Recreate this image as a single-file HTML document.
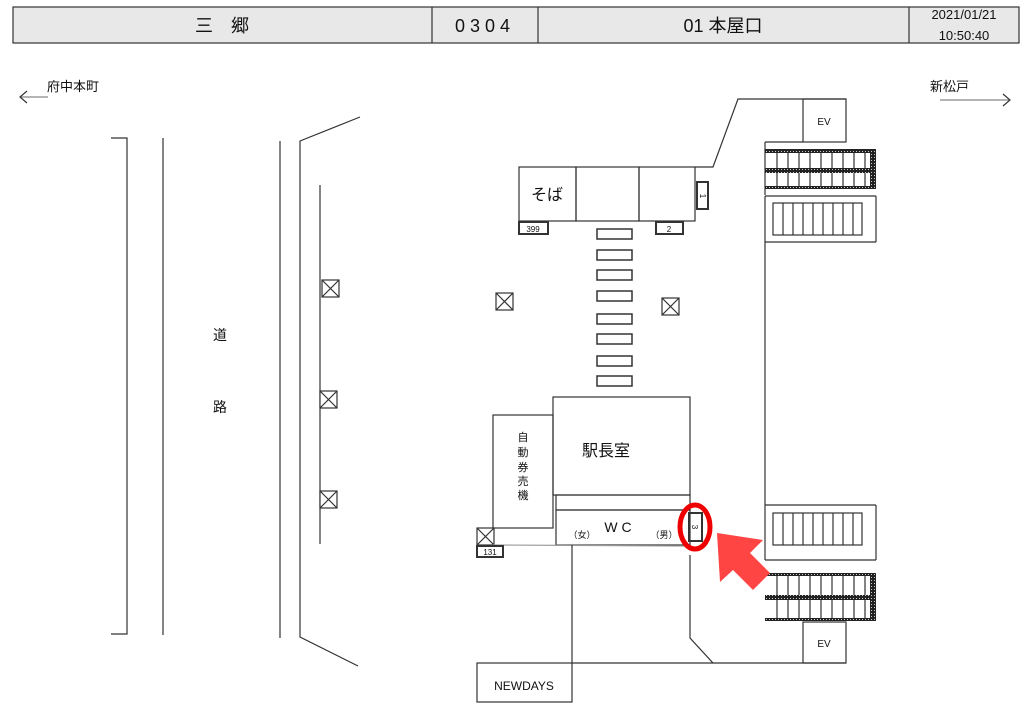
<!DOCTYPE html>
<html><head><meta charset="utf-8"><style>body{margin:0;background:#fff}svg{display:block}text{font-family:"Liberation Sans","Noto Sans CJK JP",sans-serif;fill:#111}</style></head><body>
<svg width="1024" height="709" viewBox="0 0 1024 709" xmlns="http://www.w3.org/2000/svg">
<defs><pattern id="h" width="3" height="3" patternUnits="userSpaceOnUse"><rect width="3" height="3" fill="#222"/><rect x="1" y="1" width="1" height="1" fill="#ccc"/></pattern>
<g id="x" stroke="#333" stroke-width="1.2" fill="none"><rect x="0" y="0" width="17" height="17" fill="#fff"/><line x1="0" y1="0" x2="17" y2="17"/><line x1="17" y1="0" x2="0" y2="17"/></g></defs>
<g stroke="#333" stroke-width="1.2" fill="none">
<rect x="13" y="7" width="1006" height="36" fill="#e8e8e8"/>
<line x1="432" y1="7" x2="432" y2="43"/><line x1="538" y1="7" x2="538" y2="43"/><line x1="909" y1="7" x2="909" y2="43"/>
<line x1="20" y1="97" x2="48" y2="97" stroke="#888"/><polyline points="27,91 20,97 27,103"/>
<line x1="940" y1="100" x2="1010" y2="100" stroke="#888"/><polyline points="1003,94 1010,100 1003,106"/>
<polyline points="111,138 127,138 127,634 111,634"/>
<line x1="163" y1="138" x2="163" y2="635"/><line x1="280" y1="141" x2="280" y2="638"/>
<polyline points="360,117 300,141 300,637 358,666"/>
<line x1="320" y1="185" x2="320" y2="544"/>
<use href="#x" x="322" y="280"/><use href="#x" x="320" y="391"/><use href="#x" x="320" y="491"/>
<use href="#x" x="496" y="293"/><use href="#x" x="662" y="298"/><use href="#x" x="477" y="528"/>
<rect x="519" y="167" width="57" height="54"/><rect x="576" y="167" width="63" height="54"/><rect x="639" y="167" width="56" height="54"/>
<polyline points="695,167 713,167 738,99 846,99"/>
<rect x="803" y="99" width="43" height="43"/>
<rect x="697" y="182" width="11" height="27" stroke-width="2"/>
<rect x="519" y="222" width="29" height="12" stroke-width="2"/><rect x="656" y="222" width="27" height="12" stroke-width="2"/>
<g stroke-width="1.5"><rect x="597" y="229" width="35" height="10"/><rect x="597" y="250" width="35" height="10"/><rect x="597" y="270" width="35" height="10"/><rect x="597" y="291" width="35" height="10"/><rect x="597" y="314" width="35" height="10"/><rect x="597" y="334" width="35" height="10"/><rect x="597" y="356" width="35" height="10"/><rect x="597" y="376" width="35" height="10"/></g>
<polyline points="765,142 803,142"/>
<line x1="765" y1="142" x2="765" y2="195"/>
<line x1="765" y1="196" x2="876" y2="196"/><line x1="876" y1="196" x2="876" y2="242"/>
<line x1="765" y1="242" x2="876" y2="242"/><line x1="765" y1="196" x2="765" y2="505"/>
<line x1="765" y1="505" x2="876" y2="505"/><line x1="876" y1="505" x2="876" y2="560"/><line x1="765" y1="505" x2="765" y2="560"/>
<line x1="765" y1="560" x2="876" y2="560"/>
<rect x="773" y="203" width="89" height="32"/><rect x="773" y="513" width="89" height="32"/>
<path d="M783 203v32M793 203v32M803 203v32M813 203v32M823 203v32M833 203v32M843 203v32M853 203v32"/>
<path d="M783 513v32M793 513v32M803 513v32M813 513v32M823 513v32M833 513v32M843 513v32M853 513v32"/>
<path d="M777 153v33M788 153v33M799 153v33M810 153v33M821 153v33M832 153v33M843 153v33M854 153v33M865 153v33"/>
<path d="M777 576v42M788 576v42M799 576v42M810 576v42M821 576v42M832 576v42M843 576v42M854 576v42M865 576v42"/>
<rect x="803" y="622" width="43" height="41"/>
<polyline points="690,555 690,638 713,663 846,663"/>
<rect x="553" y="397" width="137" height="98"/>
<rect x="493" y="415" width="60" height="113"/>
<rect x="556" y="495" width="134" height="15"/>
<rect x="556" y="510" width="134" height="35"/>
<line x1="493" y1="545" x2="690" y2="546" stroke="#999"/>
<rect x="477" y="546" width="26" height="11" stroke-width="2"/>
<rect x="689" y="513" width="13" height="28" stroke-width="2"/>
<line x1="572" y1="545" x2="572" y2="663"/><line x1="572" y1="663" x2="713" y2="663"/>
<rect x="477" y="663" width="95" height="39"/>
</g>
<g stroke="none" fill="url(#h)">
<rect x="765" y="149" width="111" height="4"/><rect x="765" y="168" width="111" height="5"/><rect x="765" y="186" width="111" height="3"/><rect x="870" y="149" width="6" height="40"/>
<rect x="765" y="573" width="111" height="3"/><rect x="765" y="595" width="111" height="5"/><rect x="765" y="618" width="111" height="3"/><rect x="870" y="573" width="6" height="48"/>
</g>
<ellipse cx="695" cy="527" rx="15" ry="22" fill="none" stroke="#e00" stroke-width="5"/>
<polygon points="717,533 763,540 750,553 770,573 753,590 733,570 720,582" fill="#f44"/>
<g font-size="18" text-anchor="middle">
<text x="222" y="32">三　郷</text>
<text x="485" y="32" letter-spacing="5">0304</text>
<text x="723" y="32">01 本屋口</text>
</g>
<text x="964" y="19" font-size="13" text-anchor="middle">2021/01/21</text>
<text x="964" y="40" font-size="13" text-anchor="middle">10:50:40</text>
<text x="47" y="91" font-size="13">府中本町</text>
<text x="930" y="91" font-size="13">新松戸</text>
<text x="220" y="340" font-size="14" text-anchor="middle">道</text>
<text x="220" y="412" font-size="14" text-anchor="middle">路</text>
<text x="547" y="200" font-size="16" text-anchor="middle">そば</text>
<text x="606" y="456" font-size="16" text-anchor="middle">駅長室</text>
<g font-size="11" text-anchor="middle"><text x="523" y="441">自</text><text x="523" y="456">動</text><text x="523" y="471">券</text><text x="523" y="485">売</text><text x="523" y="499">機</text></g>
<text x="618" y="532" font-size="14" text-anchor="middle">W C</text>
<text x="582" y="538" font-size="9" text-anchor="middle">（女）</text>
<text x="664" y="538" font-size="9" text-anchor="middle">（男）</text>
<text x="824" y="125" font-size="10" text-anchor="middle">EV</text>
<text x="824" y="647" font-size="10" text-anchor="middle">EV</text>
<text x="524" y="690" font-size="12" text-anchor="middle">NEWDAYS</text>
<g font-size="8" text-anchor="middle"><text x="533" y="232">399</text><text x="669" y="232">2</text><text x="490" y="555">131</text>
<text transform="translate(700,196) rotate(90)">1</text><text transform="translate(692,527) rotate(90)">3</text></g>
</svg>
</body></html>
